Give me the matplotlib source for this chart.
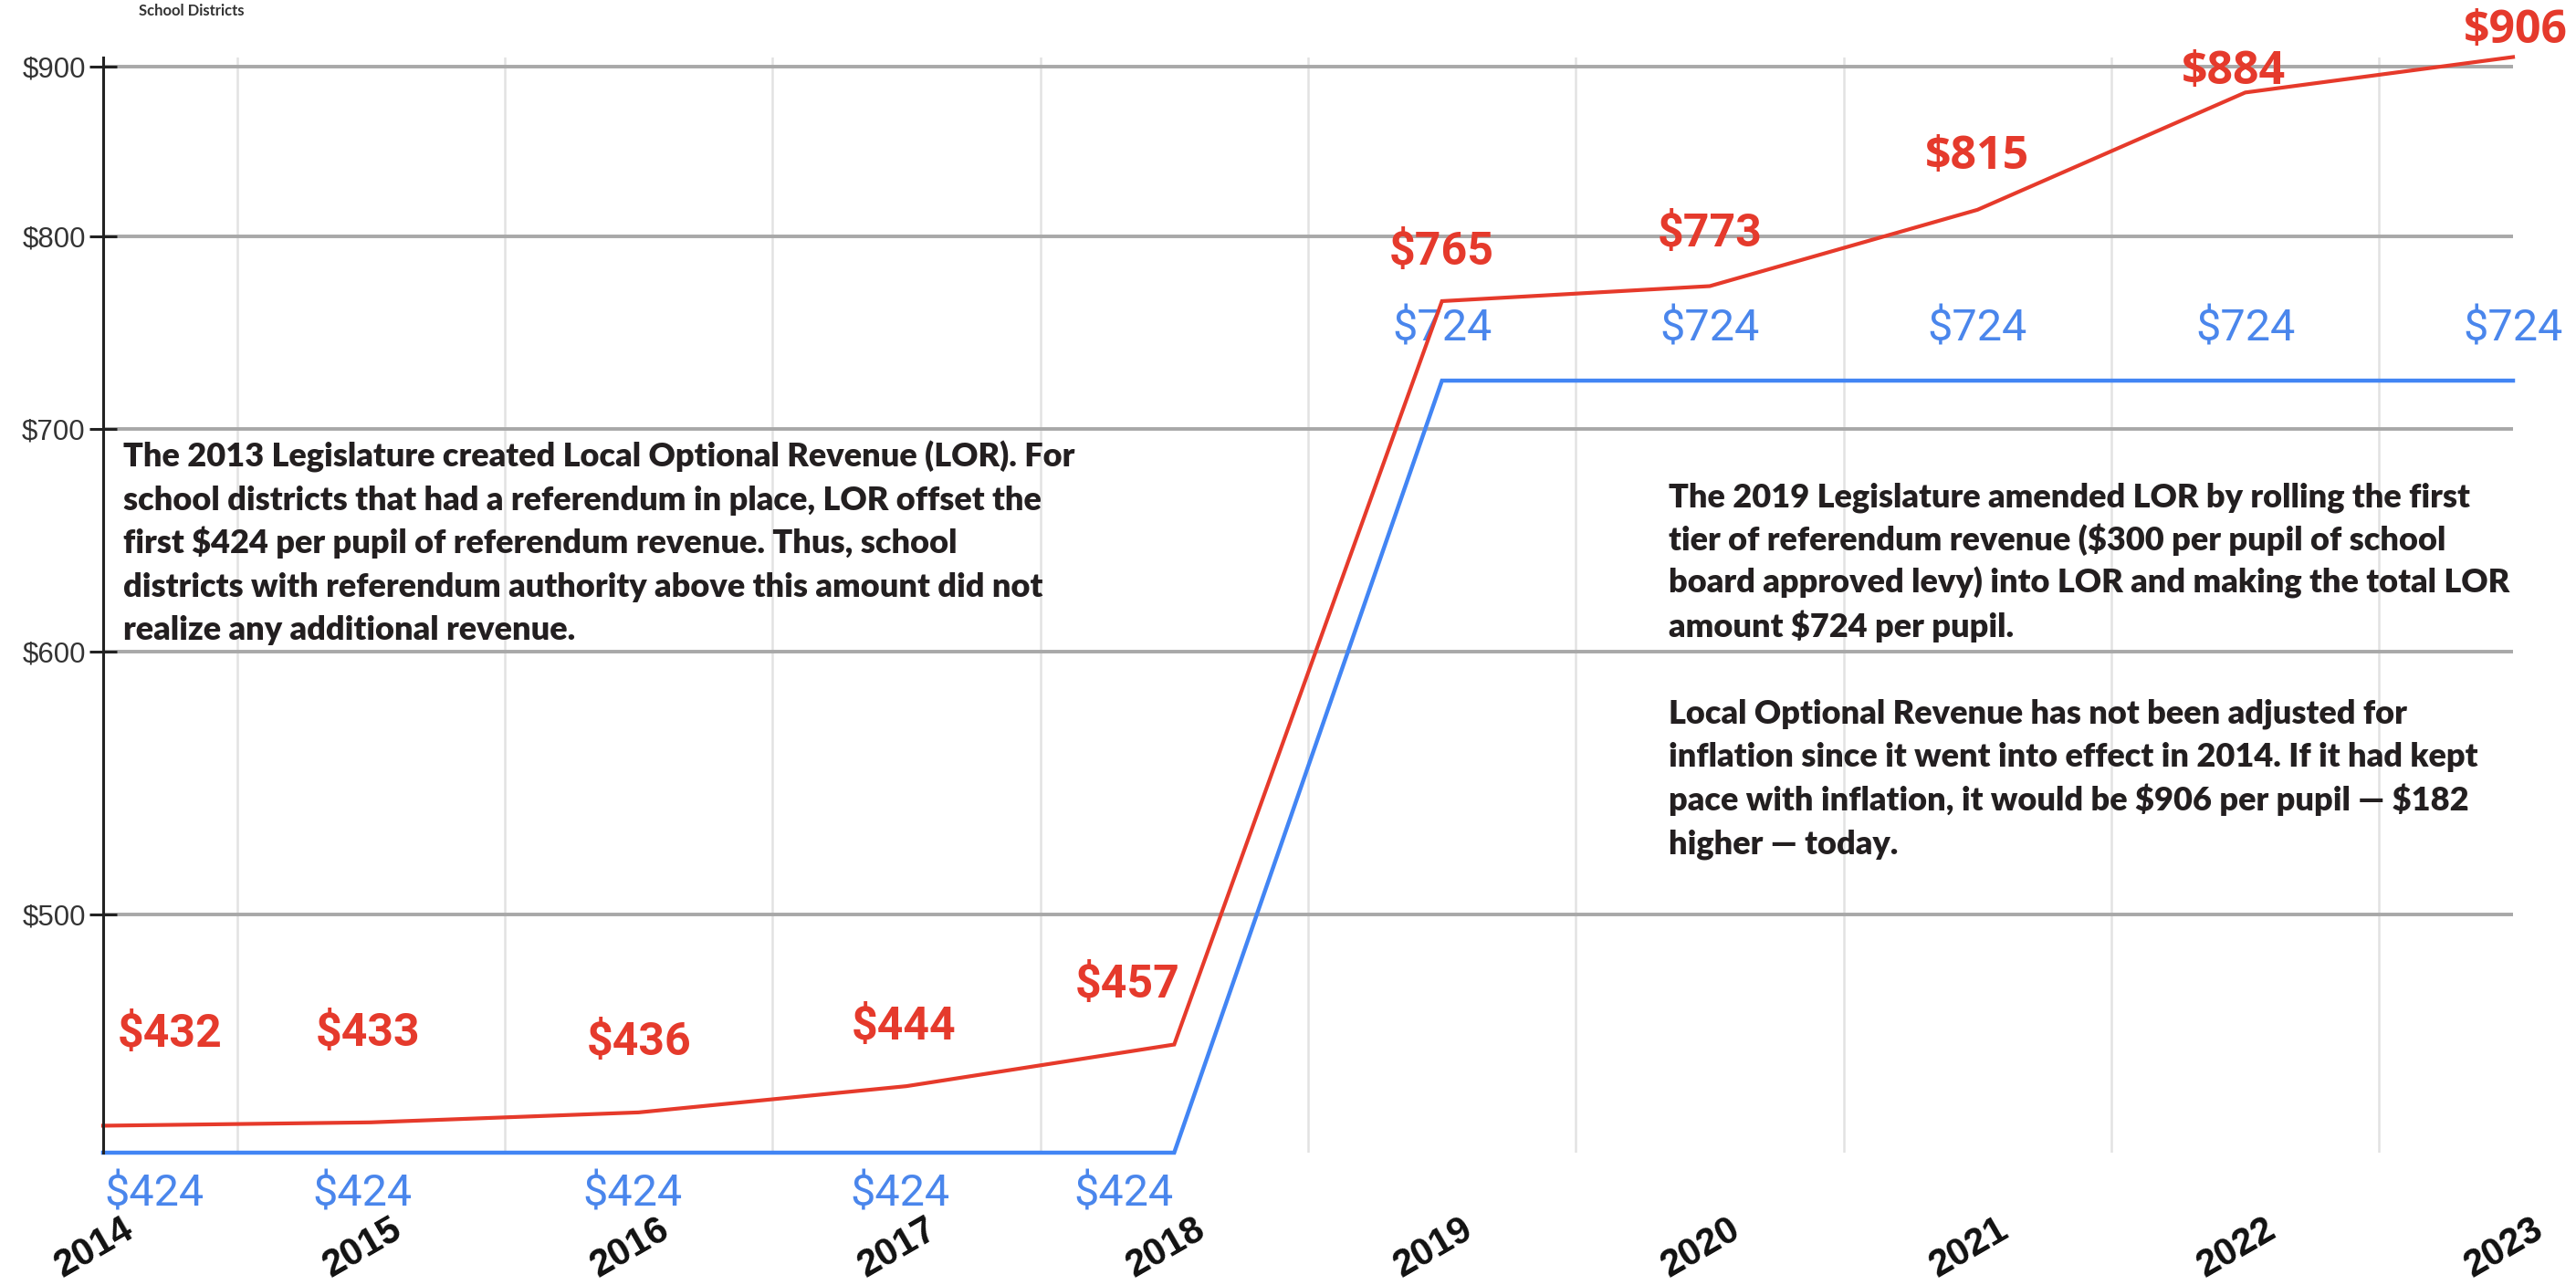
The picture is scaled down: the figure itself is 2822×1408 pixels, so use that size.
import matplotlib
matplotlib.use("Agg")
import matplotlib.pyplot as plt
from matplotlib.ticker import FixedLocator, NullLocator, FuncFormatter
import numpy as np

# ---------------- data ----------------
years = [2014, 2015, 2016, 2017, 2018, 2019, 2020, 2021, 2022, 2023]
inflation_adjusted = [432, 433, 436, 444, 457, 765, 773, 815, 884, 906]
lor_amount = [424, 424, 424, 424, 424, 724, 724, 724, 724, 724]
y_ticks = [500, 600, 700, 800, 900]
year_labels = ["2014", "2015", "2016", "2017", "2018",
               "2019", "2020", "2021", "2022", "2023"]

note_left = [
    "The 2013 Legislature created Local Optional Revenue (LOR). For",
    "school districts that had a referendum in place, LOR offset the",
    "first $424 per pupil of referendum revenue. Thus, school",
    "districts with referendum authority above this amount did not",
    "realize any additional revenue.",
]
note_right = [
    "The 2019 Legislature amended LOR by rolling the first",
    "tier of referendum revenue ($300 per pupil of school",
    "board approved levy) into LOR and making the total LOR",
    "amount $724 per pupil.",
    "",
    "Local Optional Revenue has not been adjusted for",
    "inflation since it went into effect in 2014. If it had kept",
    "pace with inflation, it would be $906 per pupil \u2014 $182",
    "higher \u2014 today.",
]

# ---------------- styling / layout ----------------
W, H = 2822, 1408
RED = "#e63a2b"
RED_LBL = "#e53a2c"
BLUE = "#4285f4"
BLUE_LBL = "#4a86ec"
NOTE_FONT = ["Lato", "DejaVu Sans"]
NOTE_WEIGHT = 800

# label offsets in points (dx, dy) relative to each data point (baseline anchor)
red_offsets = [(53, 62), (-2, 60), (0, 45), (-2, 37), (-37, 37),
               (0, 29), (0, 31), (0, 32), (-9, 6.5), (2, 11)]
red_fonts = ["Roboto"] * 7 + ["Open Sans"] * 3
blue_offsets = [(40, -42), (-7, -42), (-5, -42), (-5, -42), (-40, -42),
                (0, 31), (0, 31), (0, 31), (0, 31), (0, 31)]

fig = plt.figure(figsize=(W / 100, H / 100), dpi=100)
fig.patch.set_facecolor("white")
ax_left, ax_right, ax_top, ax_bottom = 113, 2753, 62.5, 1263
ax = fig.add_axes([ax_left / W, 1 - ax_bottom / H,
                   (ax_right - ax_left) / W, (ax_bottom - ax_top) / H])

ax.set_yscale("log")
ax.set_ylim(424, 906)
ax.set_xlim(years[0], years[-1])

ax.yaxis.set_major_locator(FixedLocator(y_ticks))
ax.yaxis.set_minor_locator(NullLocator())
ax.yaxis.set_major_formatter(FuncFormatter(lambda v, p: f"${v:.0f}"))
ax.tick_params(axis="y", which="major", direction="inout", length=21.6,
               width=2.2, color="#222222", pad=3, labelsize=22.5,
               labelcolor="#333333")
for lab in ax.get_yticklabels():
    lab.set_family(["Liberation Sans", "DejaVu Sans"])

# vertical grid lines sit midway between the years
half_years = [y + 0.5 for y in years[:-1]]
ax.xaxis.set_major_locator(FixedLocator(half_years))
ax.xaxis.set_minor_locator(NullLocator())
ax.tick_params(axis="x", which="major", length=0, labelbottom=False)

ax.yaxis.grid(True, color="#a8a8a8", lw=2.8, zorder=0)
ax.xaxis.grid(True, color="#e2e2e2", lw=1.8, zorder=0)
ax.set_axisbelow(True)

for s in ["top", "right", "bottom"]:
    ax.spines[s].set_visible(False)
ax.spines["left"].set_color("#222222")
ax.spines["left"].set_linewidth(2.2)
ax.spines["left"].set_zorder(5)

ax.plot(years, lor_amount, color=BLUE, lw=3.2, clip_on=False, zorder=3,
        solid_joinstyle="miter")
ax.plot(years, inflation_adjusted, color=RED, lw=3.0, clip_on=False, zorder=4,
        solid_joinstyle="miter")

for x, v, off, fam in zip(years, inflation_adjusted, red_offsets, red_fonts):
    ax.annotate(f"${v}", xy=(x, v), xytext=off, textcoords="offset points",
                ha="center", va="baseline", fontsize=36, fontweight="bold",
                color=RED_LBL, family=[fam, "DejaVu Sans"], annotation_clip=False)

for x, v, off in zip(years, lor_amount, blue_offsets):
    ax.annotate(f"${v}", xy=(x, v), xytext=off, textcoords="offset points",
                ha="center", va="baseline", fontsize=35, fontweight="normal",
                color=BLUE_LBL, family=["Roboto", "DejaVu Sans"],
                annotation_clip=False)

# rotated year labels
for x, lab in zip(years, year_labels):
    ax.annotate(lab, xy=(x, 0), xycoords=("data", "axes fraction"),
                xytext=(-7, -75), textcoords="offset points",
                rotation=30, rotation_mode="anchor", ha="center", va="center",
                fontsize=30, fontweight="bold", color="#111111",
                family=["Liberation Sans", "DejaVu Sans"], annotation_clip=False)

# ---------------- notes ----------------
fig.canvas.draw()
renderer = fig.canvas.get_renderer()
probe = fig.text(0, 0, note_left[0], fontsize=20, fontweight=NOTE_WEIGHT,
                 family=NOTE_FONT, parse_math=False)
w = probe.get_window_extent(renderer).width
probe.remove()
note_fs = 20 * 1044 / w

pitch = 47.5
def draw_note(lines, x_px, first_baseline_px):
    for i, line in enumerate(lines):
        if not line:
            continue
        fig.text(x_px / W, 1 - (first_baseline_px + i * pitch) / H, line,
                 ha="left", va="baseline", fontsize=note_fs,
                 fontweight=NOTE_WEIGHT, color="#231f20", family=NOTE_FONT,
                 parse_math=False)

draw_note(note_left, 135, 511)
draw_note(note_right, 1828, 555)

fig.text(152 / W, 1 - 17 / H, "School Districts", ha="left", va="baseline",
         fontsize=12, fontweight="bold", color="#333333",
         family=NOTE_FONT)

fig.savefig("out.png", dpi=100, facecolor="white")
